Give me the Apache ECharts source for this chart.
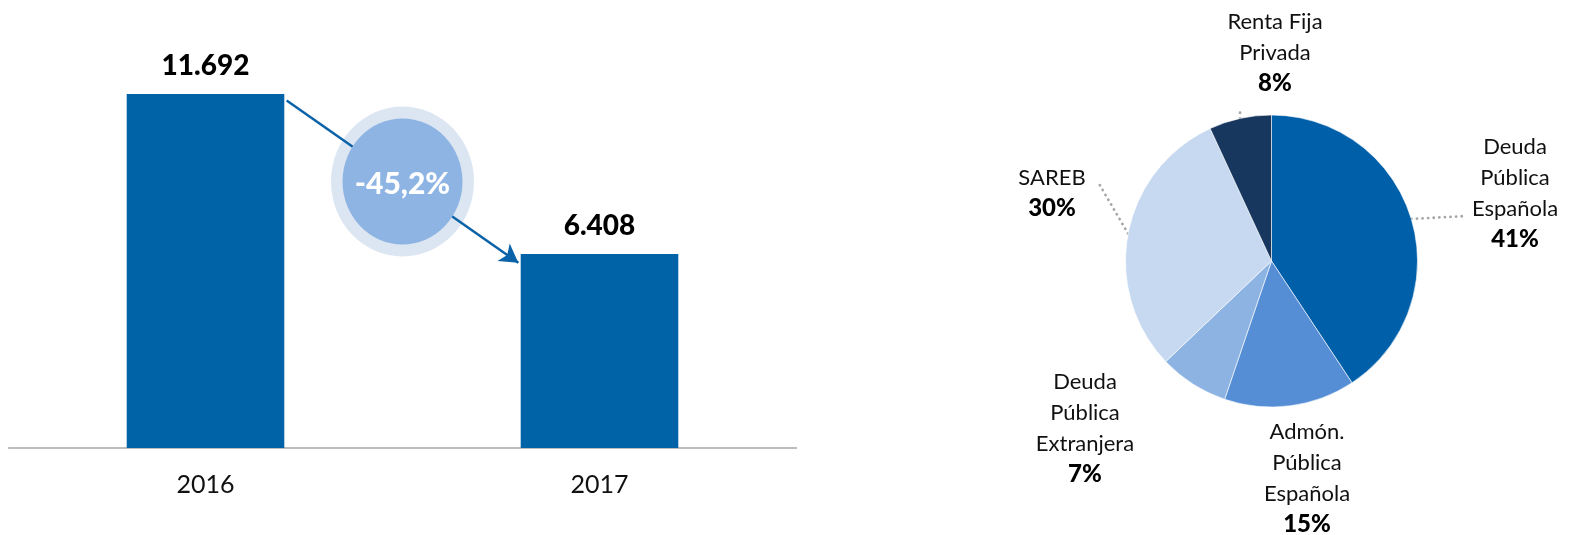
<!DOCTYPE html>
<html>
<head>
<meta charset="utf-8">
<script src="https://cdn.jsdelivr.net/npm/echarts@6/dist/echarts.min.js"></script>
<style>
html,body{margin:0;padding:0;background:#fff;}
#chart{width:1573px;height:535px;}
</style>
</head>
<body>
<div id="chart"></div>
<script>
// ---- Data ----
const years = ['2016', '2017'];
const volumes = [11692, 6408];
const changeLabel = '-45,2%';
const changePos = [0.5, 8800];              // annotation bubble (data space)
const arrowFrom = [0.206, 11471];           // arrow annotation (data space)
const arrowTo = [0.794, 6120];

const pieNames = ['Deuda\nPública\nEspañola', 'Admón.\nPública\nEspañola', 'Deuda\nPública\nExtranjera', 'SAREB', 'Renta Fija\nPrivada'];
const pieShares = [40.7, 14.5, 7.7, 30.2, 6.9];
const pieLabels = ['41%', '15%', '7%', '30%', '8%'];

// ---- Styles / layout ----
const FONT = 'Lato, "Noto Sans", sans-serif';
const pieColors = ['#005FA9', '#558ED5', '#8DB3E2', '#C6D9F0', '#17375E'];
const labelLayoutPos = [
  {x: 1515, y: 131, lead: [1466, 216]},
  {x: 1307, y: 416},
  {x: 1085, y: 366},
  {x: 1052, y: 162, lead: [1098, 182]},
  {x: 1275, y: 6, lead: [1240, 109]}
];

function fmtNum(v) {
  return String(v).replace(/\B(?=(\d{3})+(?!\d))/g, '.');
}

const chart = echarts.init(document.getElementById('chart'), null, {renderer: 'canvas'});

const option = {
  animation: false,
  backgroundColor: '#fff',
  textStyle: {fontFamily: FONT},
  grid: {left: 8.5, top: 24, width: 788, height: 424},
  xAxis: [
    {
      type: 'category', data: years,
      axisLine: {show: true, lineStyle: {color: '#A6A6A6', width: 1.5}},
      axisTick: {show: false},
      axisLabel: {fontSize: 25, color: '#111', margin: 24, fontFamily: FONT}
    },
    {type: 'value', min: -0.5, max: 1.5, show: false}
  ],
  yAxis: {type: 'value', min: 0, max: 14000, show: false, splitLine: {show: false}},
  series: [
    {
      type: 'bar', xAxisIndex: 0, data: volumes, barWidth: '40%',
      itemStyle: {color: '#0062A7'},
      label: {
        show: true, position: 'top', distance: 14,
        fontSize: 28, fontWeight: 900, color: '#000', fontFamily: FONT,
        formatter: p => fmtNum(p.value)
      },
      silent: true, z: 2
    },
    {
      type: 'scatter', xAxisIndex: 1, data: [changePos],
      symbol: 'circle', symbolSize: [143, 150],
      itemStyle: {color: '#DCE6F2', opacity: 1}, silent: true, z: 3
    },
    {
      type: 'line', xAxisIndex: 1, data: [], silent: true, z: 4,
      markLine: {
        silent: true, animation: false,
        symbol: ['none', 'arrow'], symbolSize: [16, 18],
        label: {show: false},
        lineStyle: {color: '#0A62A8', width: 2.5, type: 'solid'},
        data: [[{coord: arrowFrom}, {coord: arrowTo}]]
      }
    },
    {
      type: 'scatter', xAxisIndex: 1, data: [changePos],
      symbol: 'circle', symbolSize: [120, 126],
      itemStyle: {color: '#8EB4E3', opacity: 1}, silent: true, z: 5,
      label: {
        show: true, position: 'inside', formatter: changeLabel,
        color: '#fff', fontSize: 30, fontWeight: 900, fontFamily: FONT, offset: [0, 3]
      }
    },
    {
      type: 'pie', center: [1271.5, 261], radius: 146,
      startAngle: 90, clockwise: true, silent: true,
      avoidLabelOverlap: false,
      itemStyle: {borderColor: '#fff', borderWidth: 0.6},
      data: pieNames.map((n, i) => ({
        name: n, value: pieShares[i],
        itemStyle: {color: pieColors[i]},
        labelLine: {show: !!labelLayoutPos[i].lead}
      })),
      label: {
        show: true, position: 'outside', overflow: 'none',
        formatter: p => p.name.split('\n').map(l => '{n|' + l + '}').join('\n') + '\n{p|' + pieLabels[p.dataIndex] + '}',
        rich: {
          n: {fontSize: 22, lineHeight: 31, color: '#111', fontFamily: FONT},
          p: {fontSize: 24, lineHeight: 31, fontWeight: 900, color: '#000', fontFamily: FONT}
        }
      },
      labelLine: {
        show: true, length: 5, length2: 5, smooth: false,
        lineStyle: {color: '#A6A6A6', width: 2.8, type: [0.1, 5.5], cap: 'round'}
      },
      labelLayout: function (params) {
        const p = labelLayoutPos[params.dataIndex];
        const res = {x: p.x, y: p.y, align: 'center', verticalAlign: 'top'};
        if (p.lead && params.labelLinePoints) {
          res.labelLinePoints = [params.labelLinePoints[0], p.lead];
        }
        return res;
      }
    }
  ]
};
chart.setOption(option);
</script>
</body>
</html>
